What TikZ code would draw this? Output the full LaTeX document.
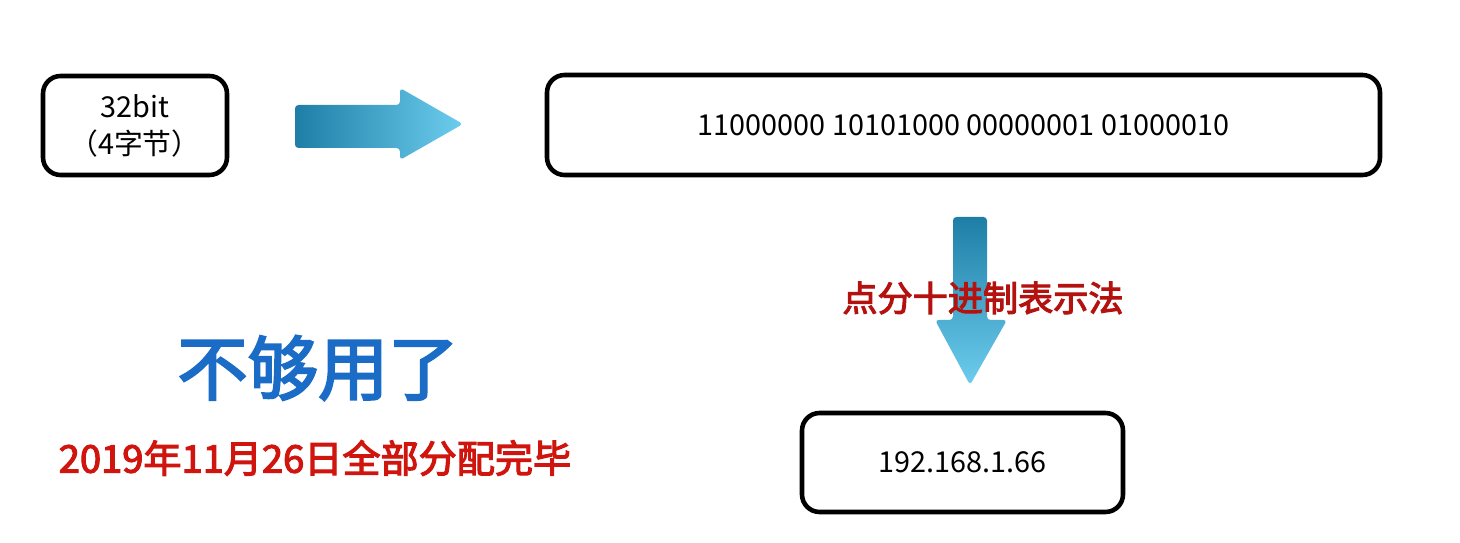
\documentclass[tikz,border=0pt]{standalone}
\usepackage{fontspec}
\newfontfamily\cjk{Noto Sans CJK SC}
\newfontfamily\cjkbold[FakeBold=3]{Noto Sans CJK SC}
\definecolor{arrowdark}{HTML}{1F7EA6}
\definecolor{arrowlight}{HTML}{6DCDEE}
\definecolor{darkred}{HTML}{B3120F}
\definecolor{brightred}{HTML}{D0140E}
\definecolor{textblue}{HTML}{1A6CC6}
\tikzset{
  box/.style={draw=black,line width=2.6pt,rounded corners=10pt,align=center,font=\cjk\fontsize{16.4}{21}\selectfont}
}
\begin{document}
\begin{tikzpicture}[x=0.02cm,y=-0.02cm]
\useasboundingbox (0,0) rectangle (1460,543);

\node[box,minimum width=184*0.02cm,minimum height=99*0.02cm] (bits) at (135,125.5) {32bit\\（4字节）};
\node[box,minimum width=833*0.02cm,minimum height=100*0.02cm] (binary) at (963.5,125) {11000000 10101000 00000001 01000010};
\node[box,minimum width=321*0.02cm,minimum height=99*0.02cm] (dotted) at (962.5,462.5) {192.168.1.66};

% right arrow
\shade[left color=arrowdark,right color=arrowlight,rounded corners=2pt]
  (295,105) -- (400,105) -- (400,88) -- (463,124) -- (400,160) -- (400,148) -- (295,148) -- cycle;

% down arrow
\shade[top color=arrowdark,bottom color=arrowlight,rounded corners=2pt]
  (953,217) -- (987,217) -- (987,320) -- (1007,320) -- (970,385) -- (935,320) -- (953,320) -- cycle;

\node[font=\cjkbold\fontsize{20}{24}\selectfont,text=darkred] (method) at (983,298) {点分十进制表示法};

\node[font=\cjkbold\fontsize{40}{44}\selectfont,text=textblue] (notenough) at (318,368) {不够用了};
\node[font=\cjkbold\fontsize{21.7}{26}\selectfont,text=brightred] (date) at (315,458) {2019年11月26日全部分配完毕};
\end{tikzpicture}
\end{document}
